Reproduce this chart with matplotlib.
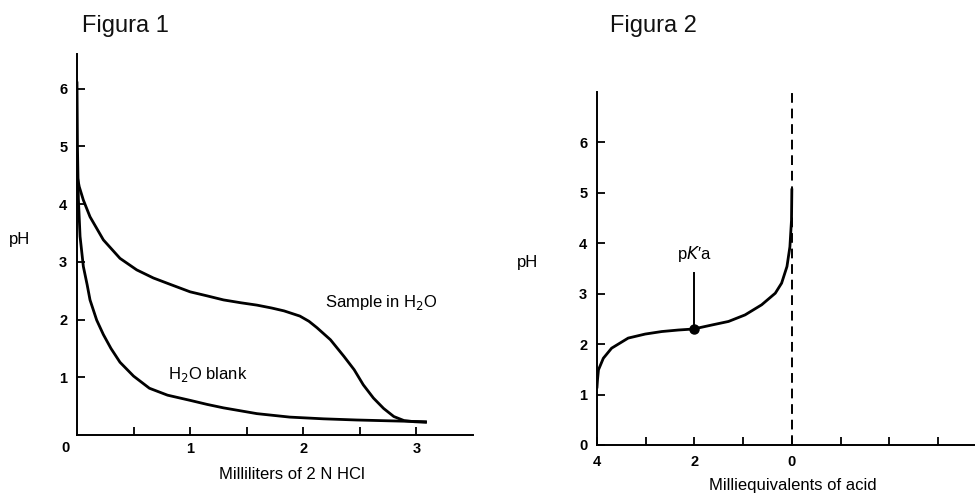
import numpy as np
import matplotlib.pyplot as plt

plt.rcParams['font.family'] = ['Liberation Sans', 'DejaVu Sans']

# Figura 1: titration with 2 N HCl
sample_ml = [0.0, 0.005, 0.02, 0.056, 0.115, 0.233, 0.38, 0.528, 0.675, 0.823,
             1.0, 1.15, 1.295, 1.45, 1.59, 1.72, 1.83, 1.97, 2.05, 2.12, 2.24,
             2.36, 2.45, 2.53, 2.62, 2.71, 2.80, 2.89, 2.98, 3.08]
sample_ph = [4.55, 4.45, 4.3, 4.07, 3.78, 3.38, 3.06, 2.86, 2.72, 2.61,
             2.48, 2.41, 2.34, 2.29, 2.25, 2.2, 2.15, 2.06, 1.97, 1.86, 1.65,
             1.36, 1.13, 0.87, 0.64, 0.46, 0.32, 0.25, 0.23, 0.22]
blank_ml = [0.0, 0.004, 0.012, 0.027, 0.056, 0.09, 0.115, 0.174, 0.233, 0.3,
            0.38, 0.5, 0.64, 0.8, 1.0, 1.15, 1.295, 1.59, 1.88, 2.18, 2.47,
            2.77, 3.08]
blank_ph = [6.1, 5.0, 4.1, 3.44, 2.92, 2.6, 2.34, 1.99, 1.74, 1.5,
            1.26, 1.02, 0.81, 0.69, 0.6, 0.53, 0.47, 0.37, 0.31, 0.28, 0.26,
            0.245, 0.23]

# Figura 2: meq of acid vs pH
meq = [4.0, 3.99, 3.97, 3.87, 3.70, 3.36, 3.01, 2.67, 2.33, 2.02, 1.64, 1.30,
       0.96, 0.62, 0.34, 0.21, 0.10, 0.04, 0.007, 0.0]
ph2 = [1.15, 1.29, 1.49, 1.72, 1.92, 2.12, 2.20, 2.25, 2.28, 2.30, 2.38, 2.45,
       2.58, 2.78, 3.01, 3.21, 3.54, 3.93, 4.46, 5.06]
pka_x, pka_y = 2.0, 2.3
pka_top = 3.42

W, H = 975, 497
fig = plt.figure(figsize=(W / 100, H / 100), dpi=100)

def box(l, r, b, t):
    # pixel edges -> figure fractions
    return [l / W, 1 - b / H, (r - l) / W, (b - t) / H]

ax1 = fig.add_axes(box(77, 473, 435, 54))
ax2 = fig.add_axes(box(597, 975, 445, 92))

FS = 12
for ax in (ax1, ax2):
    ax.spines['top'].set_visible(False)
    ax.spines['right'].set_visible(False)
    ax.spines['left'].set_linewidth(1.4)
    ax.spines['bottom'].set_linewidth(1.4)
    ax.tick_params(direction='in', length=6, width=1.3, labelsize=10.5)
    ax.set_facecolor('none')

# --- Figura 1 ---
ax1.plot(sample_ml, sample_ph, color='black', lw=2.0, solid_joinstyle='round')
ax1.plot(blank_ml, blank_ph, color='black', lw=2.0, solid_joinstyle='round')
ax1.set_xlim(0, 3.5)
ax1.set_ylim(0, 6.6)
ax1.set_xticks([0.5, 1, 1.5, 2, 2.5, 3])
ax1.set_xticklabels(['', '1', '', '2', '', '3'], fontweight='bold')
ax1.set_yticks([1, 2, 3, 4, 5, 6])
ax1.set_yticklabels(['1', '2', '3', '4', '5', '6'], fontweight='bold')
ax1.tick_params(axis='y', pad=7)
ax1.tick_params(axis='x', pad=5)
ax1.text(-0.028, -0.034, '0', transform=ax1.transAxes, ha='center', va='center',
         fontsize=10.5, fontweight='bold')
ax1.text(2.19, 2.29, 'Sample in H$_2$O', fontsize=FS, va='center')
ax1.text(0.8, 1.04, 'H$_2$O blank', fontsize=FS, va='center')
ax1.set_xlabel('Milliliters of 2 N HCl', fontsize=FS)
ax1.xaxis.set_label_coords(0.543, -0.084)
ax1.set_ylabel('pH', fontsize=FS, rotation=0, ha='center', va='center')
ax1.yaxis.set_label_coords(-0.144, 0.512)
fig.text(82 / W, 1 - 26 / H, 'Figura 1', fontsize=17, va='center', color='#111111')

# --- Figura 2 ---
ax2.plot(meq, ph2, color='black', lw=2.0, solid_joinstyle='round')
ax2.axvline(0, color='black', lw=1.4, ls=(0, (5, 3)))
ax2.plot([pka_x], [pka_y], 'o', color='black', ms=6.5)
ax2.plot([pka_x, pka_x], [pka_y, pka_top], color='black', lw=1.4)
ax2.text(pka_x, 3.58, 'p$\\mathit{K}$\u2032a', ha='center', va='bottom', fontsize=FS)
ax2.set_xlim(4, -3.76)
ax2.set_ylim(0, 7.0)
ax2.set_xticks([4, 3, 2, 1, 0, -1, -2, -3])
ax2.set_xticklabels(['4', '', '2', '', '0', '', '', ''], fontweight='bold')
ax2.set_yticks([0, 1, 2, 3, 4, 5, 6])
ax2.set_yticklabels(['0', '1', '2', '3', '4', '5', '6'], fontweight='bold')
ax2.tick_params(axis='y', pad=7)
ax2.tick_params(axis='x', pad=7)
ax2.set_xlabel('Milliequivalents of acid', fontsize=FS)
ax2.xaxis.set_label_coords(0.519, -0.093)
ax2.set_ylabel('pH', fontsize=FS, rotation=0, ha='center', va='center')
ax2.yaxis.set_label_coords(-0.183, 0.518)
fig.text(610 / W, 1 - 26 / H, 'Figura 2', fontsize=17, va='center', color='#111111')

fig.savefig('out.png', dpi=100)
